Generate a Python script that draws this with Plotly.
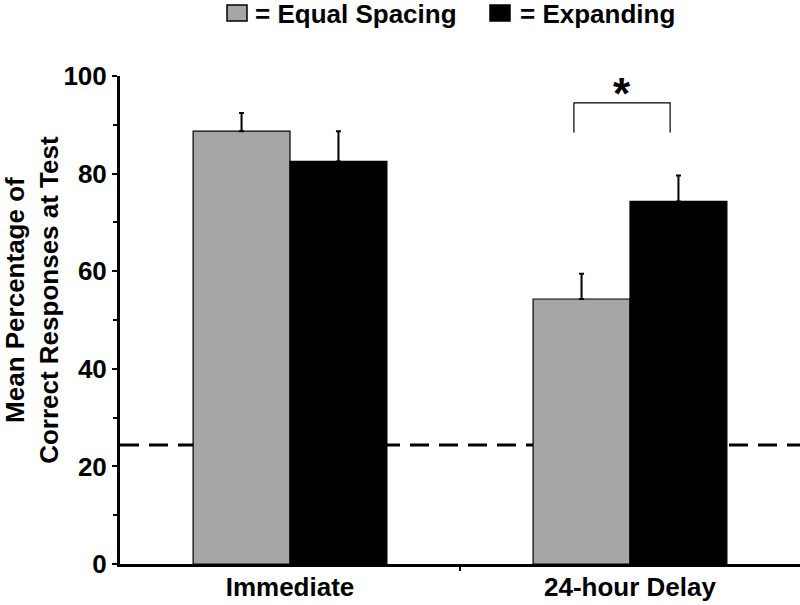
import plotly.graph_objects as go

categories = ["Immediate", "24-hour Delay"]
equal_spacing = [88.7, 54.3]
equal_err = [3.7, 5.2]
expanding = [82.5, 74.3]
expanding_err = [6.2, 5.3]
chance_level = 24.4
y_ticks = [0, 20, 40, 60, 80, 100]

FONT = "Liberation Sans, Arial, sans-serif"
GRAY = "#a6a6a6"
x_pos = list(range(len(categories)))

# plot-area geometry in page pixels
L, R, T, B = 120, 800, 76, 564.3
W, H = R - L, B - T


def px(xp):
    return (xp - L) / W


def py(yp):
    return (B - yp) / H


fig = go.Figure()
fig.add_trace(go.Bar(
    x=x_pos, y=equal_spacing, name="Equal Spacing",
    marker=dict(color=GRAY, line=dict(color="black", width=1.2)),
    error_y=dict(type="data", array=equal_err, symmetric=False, arrayminus=[0, 0],
                 color="black", thickness=2, width=2.5),
))
fig.add_trace(go.Bar(
    x=x_pos, y=expanding, name="Expanding",
    marker=dict(color="black", line=dict(color="black", width=1.2)),
    error_y=dict(type="data", array=expanding_err, symmetric=False, arrayminus=[0, 0],
                 color="black", thickness=2, width=2.5),
))

# chance line (behind bars)
fig.add_shape(type="line", xref="paper", yref="y", x0=0, x1=1, y0=chance_level, y1=chance_level,
              line=dict(color="black", width=3, dash="19px,10px"), layer="below")

# significance bracket
bx0, bx1 = 0.835, 1.118
fig.add_shape(type="path", xref="x", yref="y",
              path=f"M {bx0},88.4 L {bx0},94.5 L {bx1},94.5 L {bx1},88.4",
              line=dict(color="black", width=1.2))
fig.add_annotation(x=(bx0 + bx1) / 2, y=97.2, xref="x", yref="y", text="<b>*</b>",
                   showarrow=False, yanchor="middle", yshift=-4,
                   font=dict(family=FONT, size=44, color="black"))

# custom legend at top
for x0, col in [(227, GRAY), (490, "black")]:
    fig.add_shape(type="rect", xref="paper", yref="paper",
                  x0=px(x0), x1=px(x0 + 20), y0=py(21), y1=py(5),
                  fillcolor=col, line=dict(color="black", width=1.5))
fig.add_annotation(xref="paper", yref="paper", x=px(253), y=py(14),
                   text="<b>= Equal Spacing</b>", showarrow=False, xanchor="left", yanchor="middle",
                   font=dict(family=FONT, size=26, color="black"))
fig.add_annotation(xref="paper", yref="paper", x=px(518), y=py(14),
                   text="<b>= Expanding</b>", showarrow=False, xanchor="left", yanchor="middle",
                   font=dict(family=FONT, size=26, color="black"))

# y-axis title
fig.add_annotation(xref="paper", yref="paper", x=px(32), y=py(300),
                   text="<b>Mean Percentage of<br>Correct Responses at Test</b>",
                   textangle=-90, showarrow=False, xanchor="center", yanchor="middle",
                   font=dict(family=FONT, size=26, color="black"))

fig.update_layout(
    width=800, height=605,
    margin=dict(l=L, r=800 - R, t=T, b=605 - B, autoexpand=False),
    plot_bgcolor="white", paper_bgcolor="white",
    barmode="group", bargap=0.43, bargroupgap=0,
    showlegend=False,
    font=dict(family=FONT, color="black"),
)
fig.update_xaxes(
    range=[-0.5, 1.5], tickvals=x_pos, ticktext=[f"<b>{c}</b>" for c in categories],
    ticks="", showline=True, linecolor="black", linewidth=3, showgrid=False, zeroline=False,
    automargin=False, ticklabelstandoff=-2,
    tickfont=dict(family=FONT, size=26, color="black"),
    minor=dict(tickvals=[0.5], ticks="outside", ticklen=4, tickcolor="black", tickwidth=2),
)
fig.update_yaxes(
    range=[0, 100], tickvals=y_ticks, ticktext=[f"<b>{v}</b>" for v in y_ticks],
    ticks="outside", ticklen=5, tickwidth=2, tickcolor="black",
    showline=True, linecolor="black", linewidth=3, showgrid=False, zeroline=False,
    automargin=False,
    tickfont=dict(family=FONT, size=26, color="black"),
    minor=dict(dtick=10, ticks="outside", ticklen=4, tickcolor="black", tickwidth=2),
)

fig.write_html(
    "out.html",
    config={"displayModeBar": False},
    post_script="document.body.style.margin='0';document.body.style.overflow='hidden';",
)
